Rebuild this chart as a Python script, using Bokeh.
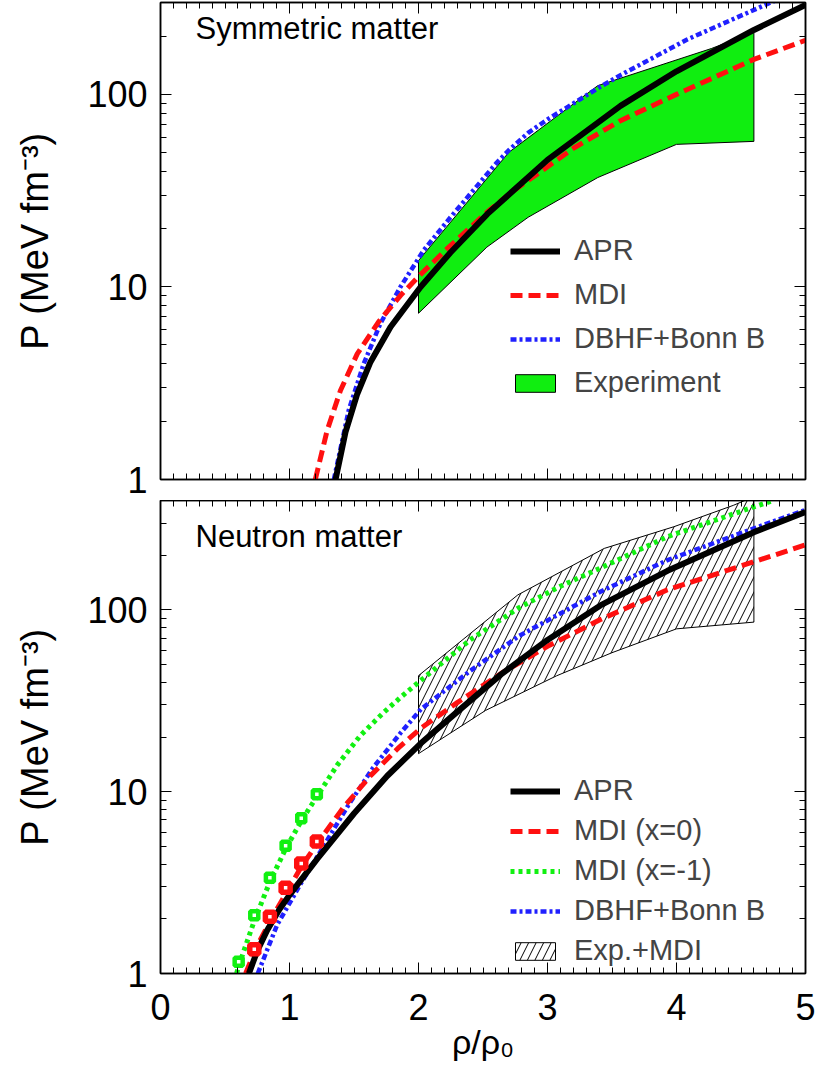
from bokeh.plotting import figure
from bokeh.models import (Range1d, FixedTicker, LinearAxis, LogAxis, Legend, LegendItem,
                          Label, CustomJSTickFormatter)
from bokeh.layouts import column
from bokeh.embed import file_html
from bokeh.resources import INLINE

FONT = "Liberation Sans"

# ---------------- data: symmetric matter (top) ----------------
apr_sym_x = [1.357, 1.434, 1.525, 1.628, 1.783, 2.016, 2.248, 2.533, 3.0, 3.566, 4.0, 4.6, 5.0]
apr_sym_y = [1.0, 1.76, 2.78, 4.08, 6.19, 10.0, 15.1, 23.9, 45.7, 87.1, 131.8, 216.0, 291.7]

mdi_sym_x = [1.2, 1.292, 1.395, 1.525, 1.692, 1.86, 2.016, 2.222, 2.533, 2.72, 3.21, 3.566, 4.0, 4.6, 5.0]
mdi_sym_y = [1.0, 1.80, 2.90, 4.49, 6.61, 9.02, 11.6, 15.8, 24.5, 31.0, 53.0, 73.0, 100.0, 152.0, 191.0]

dbhf_sym_x = [1.344, 1.46, 1.576, 1.705, 1.86, 2.04, 2.248, 2.48, 2.60, 2.70, 2.85, 3.0, 3.41, 3.566, 4.083, 4.73, 5.0]
dbhf_sym_y = [1.0, 2.3, 4.0, 6.46, 10.0, 15.5, 23.0, 35.1, 43.7, 51.3, 63.1, 74.1, 109.6, 125.9, 192.8, 299.9, 358.9]

exp_sym_up_x = [2.0, 2.70, 3.39, 4.27, 4.6]
exp_sym_up_y = [13.7, 50.0, 111.0, 173.0, 210.0]
exp_sym_lo_x = [2.0, 2.53, 2.85, 3.39, 4.0, 4.6]
exp_sym_lo_y = [7.3, 16.1, 23.0, 37.0, 55.0, 57.0]

# ---------------- data: neutron matter (bottom) ----------------
apr_neu_x = [0.685, 0.75, 0.827, 0.92, 1.008, 1.215, 1.5, 1.757, 2.016, 2.3, 2.64, 3.0, 3.41, 3.93, 4.6, 5.0]
apr_neu_y = [1.0, 1.33, 1.73, 2.24, 2.75, 4.27, 7.59, 12.2, 18.4, 27.5, 44.2, 68.4, 105.9, 164.1, 267.9, 345.9]

mdi0_neu_x = [0.66, 0.74, 0.86, 0.98, 1.09, 1.21, 1.42, 1.63, 1.84, 2.02, 2.3, 2.64, 3.0, 3.41, 3.93, 4.6, 5.0]
mdi0_neu_y = [1.0, 1.38, 2.0, 2.82, 3.85, 5.13, 8.22, 12.3, 17.3, 22.4, 30.9, 44.7, 63.1, 88.5, 129.1, 184.1, 228.0]

mdim1_neu_x = [0.59, 0.606, 0.727, 0.848, 0.970, 1.091, 1.212, 1.37, 1.55, 1.73, 1.86, 2.0, 2.4, 2.78, 3.1, 3.41, 3.93, 4.6, 4.75]
mdim1_neu_y = [1.0, 1.1, 1.95, 3.2, 4.85, 6.9, 9.4, 14.0, 20.4, 27.3, 33.0, 40.0, 68.4, 103.0, 135.0, 170.0, 253.0, 369.0, 400.0]

dbhf_neu_x = [0.754, 0.904, 1.085, 1.24, 1.45, 1.65, 1.86, 2.02, 2.4, 2.78, 3.41, 3.93, 4.6, 5.0]
dbhf_neu_y = [1.0, 1.85, 3.1, 4.7, 8.3, 13.6, 21.0, 28.5, 46.2, 72.0, 126.0, 188.0, 281.0, 355.0]

sq_mdi0_x = [0.727, 0.848, 0.970, 1.091, 1.212]
sq_mdi0_y = [1.36, 2.05, 2.96, 4.03, 5.33]
sq_mdim1_x = [0.606, 0.727, 0.848, 0.970, 1.091, 1.212]
sq_mdim1_y = [1.16, 2.09, 3.36, 5.05, 7.15, 9.7]

exp_neu_up_x = [2.0, 2.77, 3.44, 3.98, 4.44, 4.6]
exp_neu_up_y = [43.5, 121.0, 218.0, 287.0, 376.0, 420.0]
exp_neu_lo_x = [2.0, 2.52, 3.07, 3.5, 4.0, 4.6]
exp_neu_lo_y = [16.2, 28.0, 43.4, 58.2, 78.7, 85.7]

x_major = [0, 1, 2, 3, 4, 5]
x_minor = [i / 10 for i in range(0, 51)]
y_major = [1, 10, 100]
y_labels = {1: "1", 10: "10", 100: "100"}
y_minor = [m * 10 ** e for e in range(0, 3) for m in range(2, 10)]

RED = "#ff1010"
BLUE = "#2020ff"
GREEN = "#10ee10"
LIME = "#11f011"
TICK_FS = "36px"


def style_axis(ax, labels=True):
    ax.major_tick_in = 11
    ax.major_tick_out = 0
    ax.minor_tick_in = 6
    ax.minor_tick_out = 0
    ax.axis_line_color = "black"
    ax.axis_line_width = 1.5
    ax.major_tick_line_color = "black"
    ax.minor_tick_line_color = "black"
    ax.major_label_text_font = FONT
    ax.major_label_text_font_size = TICK_FS
    ax.major_label_text_color = "black"
    ax.axis_label_text_font = FONT
    ax.axis_label_text_font_style = "normal"
    ax.axis_label_text_color = "black"
    if not labels:
        ax.formatter = CustomJSTickFormatter(code="return ''")
        ax.major_label_standoff = 0


def make_panel(y_top, fh, bottom_labels, min_bottom, min_top):
    p = figure(frame_width=645, frame_height=fh, y_axis_type="log",
               x_range=Range1d(0, 5), y_range=Range1d(1, y_top),
               output_backend="svg", toolbar_location=None,
               min_border_left=160, min_border_right=10,
               min_border_top=min_top, min_border_bottom=min_bottom)
    p.grid.visible = False
    p.outline_line_color = "black"
    p.outline_line_width = 1.5
    p.background_fill_color = "white"
    p.border_fill_color = "white"

    bottom_ax = p.below[0]
    left_ax = p.left[0]
    bottom_ax.ticker = FixedTicker(ticks=x_major, minor_ticks=x_minor)
    left_ax.ticker = FixedTicker(ticks=y_major, minor_ticks=y_minor)
    style_axis(bottom_ax, labels=bottom_labels)
    bottom_ax.major_label_standoff = 20
    style_axis(left_ax)
    left_ax.major_label_overrides = y_labels
    left_ax.major_label_standoff = 13
    left_ax.axis_label = "P (MeV fm\u207b\u00b3)"
    left_ax.axis_label_text_font_size = "38px"
    left_ax.axis_label_standoff = 28

    top = LinearAxis(ticker=FixedTicker(ticks=x_major, minor_ticks=x_minor))
    style_axis(top, labels=False)
    p.add_layout(top, "above")
    right = LogAxis(ticker=FixedTicker(ticks=y_major, minor_ticks=y_minor))
    style_axis(right, labels=False)
    p.add_layout(right, "right")
    return p, bottom_ax


def legend_style(lg, spacing):
    lg.glyph_width = 50
    lg.glyph_height = 22
    lg.label_text_font = FONT
    lg.label_text_font_size = "29px"
    lg.label_standoff = 14
    lg.spacing = spacing
    lg.padding = 0
    lg.margin = 0
    lg.background_fill_alpha = 0
    lg.border_line_color = None


# ---------------- top panel ----------------
p1, _ = make_panel(300, 477, False, 21, 2)

band_x = exp_sym_up_x + exp_sym_lo_x[::-1]
band_y = exp_sym_up_y + exp_sym_lo_y[::-1]
r_exp = p1.patch(band_x, band_y, fill_color=GREEN, line_color="black", line_width=1)
r_dbhf = p1.line(dbhf_sym_x, dbhf_sym_y, color=BLUE, line_width=4.5, line_dash="6 3 3 3")
r_mdi = p1.line(mdi_sym_x, mdi_sym_y, color=RED, line_width=5, line_dash="12 6")
r_apr = p1.line(apr_sym_x, apr_sym_y, color="black", line_width=6, line_join="round")

lg1 = Legend(items=[LegendItem(label="APR", renderers=[r_apr]),
                    LegendItem(label="MDI", renderers=[r_mdi]),
                    LegendItem(label="DBHF+Bonn B", renderers=[r_dbhf]),
                    LegendItem(label="Experiment", renderers=[r_exp])],
             location=(350, 80))
legend_style(lg1, 11)
p1.add_layout(lg1)

p1.add_layout(Label(x=35, y=469, x_units="screen", y_units="screen", text="Symmetric matter",
                    text_font=FONT, text_font_size="31px", text_baseline="top", text_color="black"))

# ---------------- bottom panel ----------------
p2, b2 = make_panel(400, 473, True, 114, 0)
b2.axis_label = "\u03c1/\u03c1\u2080"
b2.axis_label_text_font_size = "34px"
b2.axis_label_standoff = 0

hb_x = exp_neu_up_x + exp_neu_lo_x[::-1]
hb_y = exp_neu_up_y + exp_neu_lo_y[::-1]
r_hatch = p2.patch(hb_x, hb_y, fill_color="white", fill_alpha=0, line_color="black", line_width=1,
                   hatch_pattern="/", hatch_color="black", hatch_scale=15, hatch_weight=1)
r_g = p2.line(mdim1_neu_x, mdim1_neu_y, color=LIME, line_width=5, line_dash="4 4")
r_b = p2.line(dbhf_neu_x, dbhf_neu_y, color=BLUE, line_width=4.5, line_dash="6 3 3 3")
r_r = p2.line(mdi0_neu_x, mdi0_neu_y, color=RED, line_width=5, line_dash="12 6")
r_a = p2.line(apr_neu_x, apr_neu_y, color="black", line_width=6, line_join="round")
p2.scatter(sq_mdim1_x, sq_mdim1_y, marker="square", size=8, fill_color="white",
           line_color=LIME, line_width=4.5)
p2.scatter(sq_mdi0_x, sq_mdi0_y, marker="square", size=9, fill_color="white",
           line_color=RED, line_width=5.5)

lg2 = Legend(items=[LegendItem(label="APR", renderers=[r_a]),
                    LegendItem(label="MDI (x=0)", renderers=[r_r]),
                    LegendItem(label="MDI (x=-1)", renderers=[r_g]),
                    LegendItem(label="DBHF+Bonn B", renderers=[r_b]),
                    LegendItem(label="Exp.+MDI", renderers=[r_hatch])],
             location=(350, 6))
legend_style(lg2, 7)
p2.add_layout(lg2)

p2.add_layout(Label(x=35, y=455, x_units="screen", y_units="screen", text="Neutron matter",
                    text_font=FONT, text_font_size="31px", text_baseline="top", text_color="black"))

layout = column(p1, p2, spacing=0)
open("out.html", "w").write(file_html(layout, INLINE))
